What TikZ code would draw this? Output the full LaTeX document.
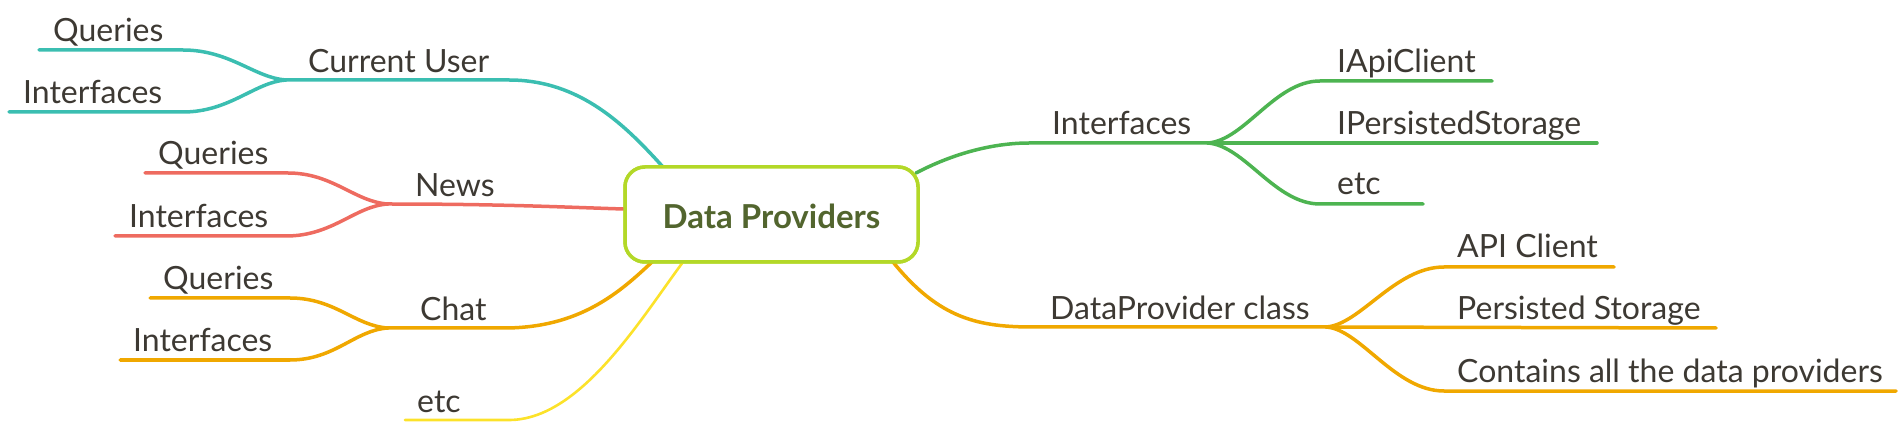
\documentclass[tikz,border=0pt]{standalone}
\usepackage{fontspec}
\setmainfont{Lato}
\definecolor{cteal}{HTML}{3BBEB1}
\definecolor{cred}{HTML}{EE6B60}
\definecolor{corange}{HTML}{F0A800}
\definecolor{cyellow}{HTML}{FCE22A}
\definecolor{cgreen}{HTML}{4DB451}
\definecolor{clime}{HTML}{B3D828}
\definecolor{colive}{HTML}{52652E}
\definecolor{ctext}{HTML}{3D3933}
\tikzset{
  lbl/.style={anchor=base west, inner sep=0pt, text=ctext, font=\fontsize{32}{38}\selectfont},
  br/.style={line width=3.5pt, line cap=round},
  thinbr/.style={line width=2.6pt, line cap=round},
  rootbox/.style={draw=clime, line width=3.5pt, fill=white, rounded corners=20pt,
    minimum width=293pt, minimum height=95pt, inner sep=0pt}
}
\begin{document}
\begin{tikzpicture}[x=1pt,y=-1pt]
\useasboundingbox (0,0) rectangle (1904,430);

% ---------- coordinates ----------
% Current User
\coordinate (cuqS) at (39,50);   \coordinate (cuqE) at (183,50);
\coordinate (cuiS) at (9,112);   \coordinate (cuiE) at (183,112);
\coordinate (cuJ) at (286,80);   \coordinate (cuE) at (509,80);
% News
\coordinate (nqS) at (145,173);  \coordinate (nqE) at (288,173);
\coordinate (niS) at (115,236);  \coordinate (niE) at (286,236);
\coordinate (nJ) at (388,204);
% Chat
\coordinate (cqS) at (150,298);  \coordinate (cqE) at (290,298);
\coordinate (ciS) at (120,360);  \coordinate (ciE) at (290,360);
\coordinate (cJ) at (388,328);   \coordinate (cE) at (504,328);
% etc left
\coordinate (eS) at (405,420);   \coordinate (eE) at (509,420);
% Interfaces right
\coordinate (gS) at (1029,143);  \coordinate (gJ) at (1208,143);
\coordinate (gaS) at (1320,81);  \coordinate (gaE) at (1492,81);
\coordinate (gpE) at (1597,143);
\coordinate (geS) at (1320,204); \coordinate (geE) at (1423,204);
% DataProvider class
\coordinate (dS) at (1034,327);  \coordinate (dJ) at (1326,327);
\coordinate (daS) at (1444,267); \coordinate (daE) at (1614,267);
\coordinate (dpE) at (1716,328);
\coordinate (dcS) at (1444,391); \coordinate (dcE) at (1896,391);

% root node
\node[rootbox] (root) at (771.5,214.5) {};

% ---------- connectors ----------
% teal
\draw[br, cteal] (cuqS) -- (cuqE) .. controls (230,50) and (255,78) .. (cuJ);
\draw[br, cteal] (cuiS) -- (cuiE) .. controls (230,112) and (255,82) .. (cuJ);
\draw[br, cteal] (cuJ) -- (cuE) .. controls (580,80) and (625,125) .. (663,167);
% red
\draw[br, cred] (nqS) -- (nqE) .. controls (333,173) and (355,202) .. (nJ);
\draw[br, cred] (niS) -- (niE) .. controls (333,236) and (355,206) .. (nJ);
\draw[br, cred] (nJ) .. controls (500,204) and (560,207) .. (root.west |- 0,209);
% orange left
\draw[br, corange] (cqS) -- (cqE) .. controls (335,298) and (355,326) .. (cJ);
\draw[br, corange] (ciS) -- (ciE) .. controls (335,360) and (355,330) .. (cJ);
\draw[br, corange] (cJ) -- (cE) .. controls (580,328) and (620,292) .. (652,262);
% yellow
\draw[thinbr, cyellow] (eS) -- (eE) .. controls (580,420) and (640,320) .. (683,262);
% green
\draw[br, cgreen] (916,173) .. controls (960,150) and (1000,143) .. (gS) -- (gJ);
\draw[br, cgreen] (gJ) .. controls (1245,140) and (1275,81) .. (gaS) -- (gaE);
\draw[br, cgreen] (gJ) -- (gpE);
\draw[br, cgreen] (gJ) .. controls (1245,146) and (1275,204) .. (geS) -- (geE);
% orange right
\draw[br, corange] (893,262) .. controls (940,320) and (980,327) .. (dS) -- (dJ);
\draw[br, corange] (dJ) .. controls (1360,325) and (1395,267) .. (daS) -- (daE);
\draw[br, corange] (dJ) -- (dpE);
\draw[br, corange] (dJ) .. controls (1360,329) and (1395,391) .. (dcS) -- (dcE);

% root on top
\node[rootbox] at (root.center) {};
\node[anchor=base, inner sep=0pt, text=colive, font=\fontsize{33}{38}\selectfont\bfseries] (roottext) at (771.5,229) {Data Providers};

% ---------- labels ----------
\node[lbl] (t1) at (53,42) {Queries};
\node[lbl] (t2) at (23,104) {Interfaces};
\node[lbl] (t3) at (308,73) {Current User};
\node[lbl] (t4) at (158,165) {Queries};
\node[lbl] (t5) at (415,197) {News};
\node[lbl] (t6) at (129,228) {Interfaces};
\node[lbl] (t7) at (163,290) {Queries};
\node[lbl] (t8) at (420,321) {Chat};
\node[lbl] (t9) at (133,352) {Interfaces};
\node[lbl] (t10) at (417,412) {etc};
\node[lbl] (t11) at (1052,135) {Interfaces};
\node[lbl] (t12) at (1337,73) {IApiClient};
\node[lbl] (t13) at (1337,135) {IPersistedStorage};
\node[lbl] (t14) at (1337,195) {etc};
\node[lbl] (t15) at (1050,320) {DataProvider class};
\node[lbl] (t16) at (1457,258) {API Client};
\node[lbl] (t17) at (1457,320) {Persisted Storage};
\node[lbl] (t18) at (1457,382) {Contains all the data providers};
\end{tikzpicture}
\end{document}
